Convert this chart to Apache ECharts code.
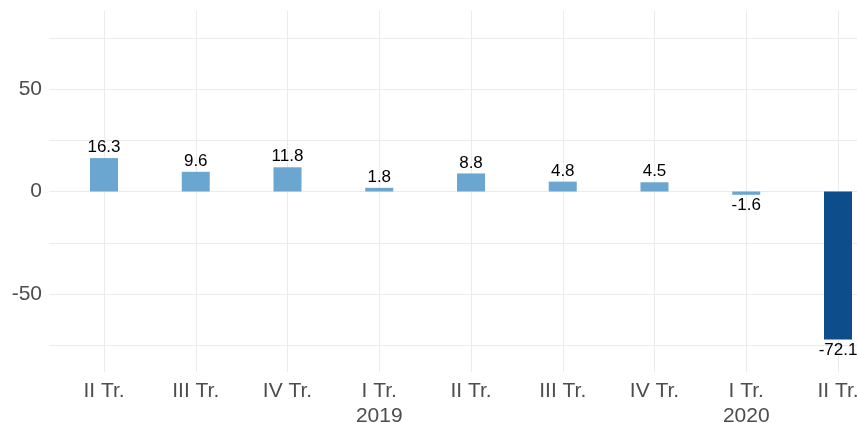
<!DOCTYPE html>
<html>
<head>
<meta charset="utf-8">
<script src="https://cdn.jsdelivr.net/npm/echarts@6/dist/echarts.min.js"></script>
<style>
html,body{margin:0;padding:0;background:#fff;}
#c{width:857px;height:423px;}
</style>
</head>
<body>
<div id="c"></div>
<script>
// Data
const categories = ["II Tr.", "III Tr.", "IV Tr.", "I Tr.\n2019", "II Tr.", "III Tr.", "IV Tr.", "I Tr.\n2020", "II Tr."];
const values = [16.3, 9.6, 11.8, 1.8, 8.8, 4.8, 4.5, -1.6, -72.1];
const highlight = [false, false, false, false, false, false, false, false, true];
const yTickLabels = [-50, 0, 50];

const lightColor = '#6aa6cf';
const darkColor = '#0e4d8b';
const textGray = '#4d4d4d';
const gridGray = '#ebebeb';

const barData = values.map((v, i) => ({
  value: [i, v],
  itemStyle: { color: highlight[i] ? darkColor : lightColor },
  label: { position: v >= 0 ? 'top' : 'bottom' }
}));

const chart = echarts.init(document.getElementById('c'), null, { renderer: 'canvas' });
chart.setOption({
  animation: false,
  backgroundColor: '#ffffff',
  grid: [
    { left: 104, right: 19, top: 11, bottom: 51, containLabel: false, outerBoundsMode: 'none' },
    { left: 49, right: 0, top: 0, bottom: 26.2, containLabel: false, outerBoundsMode: 'none' }
  ],
  xAxis: [
    {
      type: 'value', gridIndex: 0, min: 0, max: categories.length - 1, interval: 1,
      axisLine: { show: false }, axisTick: { show: false },
      splitLine: { show: true, lineStyle: { color: gridGray, width: 1 } },
      axisLabel: {
        show: true, margin: 7, color: textGray,
        fontFamily: 'Liberation Sans, Arial, sans-serif', fontSize: 21, lineHeight: 25,
        formatter: (v) => categories[Math.round(v)] || ''
      }
    },
    {
      type: 'value', gridIndex: 1, min: 0, max: 1, show: false
    }
  ],
  yAxis: [
    {
      type: 'value', gridIndex: 0, min: -88, max: 88, show: false,
      splitLine: { show: false }
    },
    {
      type: 'value', gridIndex: 1, min: -100, max: 93.46, interval: 25,
      axisLine: { show: false }, axisTick: { show: false },
      splitLine: { show: true, showMinLine: false, showMaxLine: false, lineStyle: { color: gridGray, width: 1 } },
      axisLabel: {
        show: true, margin: 7, color: textGray,
        fontFamily: 'Liberation Sans, Arial, sans-serif', fontSize: 21,
        showMinLabel: false, showMaxLabel: false,
        formatter: (v) => yTickLabels.indexOf(v) >= 0 ? String(v) : ''
      }
    }
  ],
  series: [
    {
      type: 'bar', xAxisIndex: 0, yAxisIndex: 0,
      barWidth: 28, clip: false,
      data: barData,
      label: {
        show: true, distance: 2, color: '#000000',
        fontFamily: 'Liberation Sans, Arial, sans-serif', fontSize: 17,
        formatter: (p) => String(p.value[1])
      }
    }
  ]
});
</script>
</body>
</html>
